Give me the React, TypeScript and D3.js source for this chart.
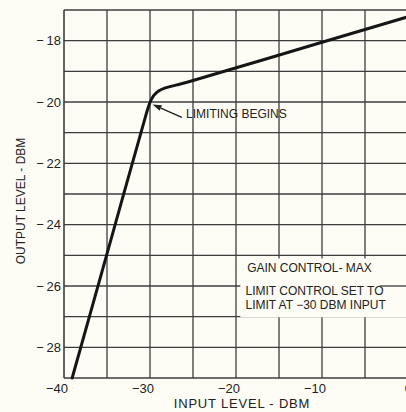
import React from "react";
import * as d3 from "d3";

const inputLevel = [-39.05, -34.5, -30.5, -30.05, -29.6, -29.0, -28.2, -27, -25, -10, 0];
const outputLevel = [-29, -24.45, -20.45, -20.05, -19.8, -19.64, -19.54, -19.45, -19.3, -18.05, -17.22];
const xGrid = [-40, -35, -30, -25, -20, -15, -10, -5, 0];
const yGrid = [-29, -28, -27, -26, -25, -24, -23, -22, -21, -20, -19, -18, -17];
const xTickLabels = [-40, -30, -20, -10, 0];
const yTickLabels = [-28, -26, -24, -22, -20, -18];
const noteLines = ["GAIN CONTROL- MAX", "LIMIT CONTROL SET TO", "LIMIT AT  \u221230 DBM INPUT"];

const W = 406;
const H = 412;
const FONT = "'Liberation Sans', Arial, sans-serif";
const INK = "#222";
const GRID = "#3c3c3c";

export default function App() {
  const x = d3.scaleLinear().domain([-40, 0]).range([64, 408]);
  const y = d3.scaleLinear().domain([-29, -17]).range([378, 10]);
  const pts = inputLevel.map((v, i) => [v, outputLevel[i]] as [number, number]);
  const line = d3
    .line<[number, number]>()
    .x((d) => x(d[0]))
    .y((d) => y(d[1]))
    .curve(d3.curveCatmullRom.alpha(0.5));

  const tip = [-29.7, -20.08];
  const tail = [-26.3, -20.5];
  const ang = Math.atan2(y(tail[1]) - y(tip[1]), x(tail[0]) - x(tip[0]));
  const ah = 9, aw = 3;
  const tx = x(tip[0]), ty = y(tip[1]);
  const p1 = [tx + ah * Math.cos(ang) - aw * Math.sin(ang), ty + ah * Math.sin(ang) + aw * Math.cos(ang)];
  const p2 = [tx + ah * Math.cos(ang) + aw * Math.sin(ang), ty + ah * Math.sin(ang) - aw * Math.cos(ang)];

  return (
    <svg
      width={W}
      height={H}
      style={{ position: "absolute", left: 0, top: 0, background: "#fdfdf6" }}
      fontFamily={FONT}
    >
      <rect x={0} y={0} width={W} height={H} fill="#fdfdf6" />
      {yGrid.map((v) => (
        <line key={"h" + v} x1={x(-40)} x2={x(0)} y1={y(v)} y2={y(v)} stroke={GRID} strokeWidth={1.3} />
      ))}
      {xGrid.map((v) => (
        <line key={"v" + v} x1={x(v)} x2={x(v)} y1={y(-29)} y2={y(-17)} stroke={GRID} strokeWidth={v === -40 ? 1.6 : 1.3} />
      ))}
      <rect x={x(-19.5)} y={y(-25.1)} width={x(0) - x(-19.5)} height={y(-27.02) - y(-25.1)} fill="#fdfdf6" />
      <line x1={x(-3.3)} x2={x(0)} y1={y(-26)} y2={y(-26)} stroke={GRID} strokeWidth={1.3} />
      <text x={x(-18.7)} y={y(-25.4)} fontSize={12} fill={INK} dy="0.35em">{noteLines[0]}</text>
      <text x={x(-18.9)} y={y(-26.15)} fontSize={12} fill={INK} dy="0.35em">{noteLines[1]}</text>
      <text x={x(-18.9)} y={y(-26.62)} fontSize={12} fill={INK} dy="0.35em">{noteLines[2]}</text>

      <path d={line(pts) || ""} fill="none" stroke="#151515" strokeWidth={3} strokeLinejoin="round" strokeLinecap="round" />

      <line x1={x(tail[0])} y1={y(tail[1])} x2={p1[0] * 0.5 + p2[0] * 0.5} y2={p1[1] * 0.5 + p2[1] * 0.5} stroke={INK} strokeWidth={1.4} />
      <polygon points={`${tx},${ty} ${p1[0]},${p1[1]} ${p2[0]},${p2[1]}`} fill={INK} />
      <text x={x(-25.8)} y={y(-20.4)} fontSize={12} fill={INK} dy="0.35em">LIMITING BEGINS</text>

      {yTickLabels.map((v) => (
        <text key={"yl" + v} x={61} y={y(v)} dy="0.35em" textAnchor="end" fontSize={13} fill={INK}>
          {"\u2212" + "\u2009" + Math.abs(v)}
        </text>
      ))}
      {xTickLabels.map((v) => (
        <text key={"xl" + v} x={x(v) + 4} y={393} textAnchor="end" fontSize={13} fill={INK}>
          {v === 0 ? "0" : "\u2212" + Math.abs(v)}
        </text>
      ))}
      <text x={242} y={408} textAnchor="middle" fontSize={13} letterSpacing={0.8} fill={INK}>
        INPUT LEVEL - DBM
      </text>
      <text transform={`translate(25,201) rotate(-90)`} textAnchor="middle" fontSize={12} fill={INK}>
        OUTPUT LEVEL - DBM
      </text>
    </svg>
  );
}
